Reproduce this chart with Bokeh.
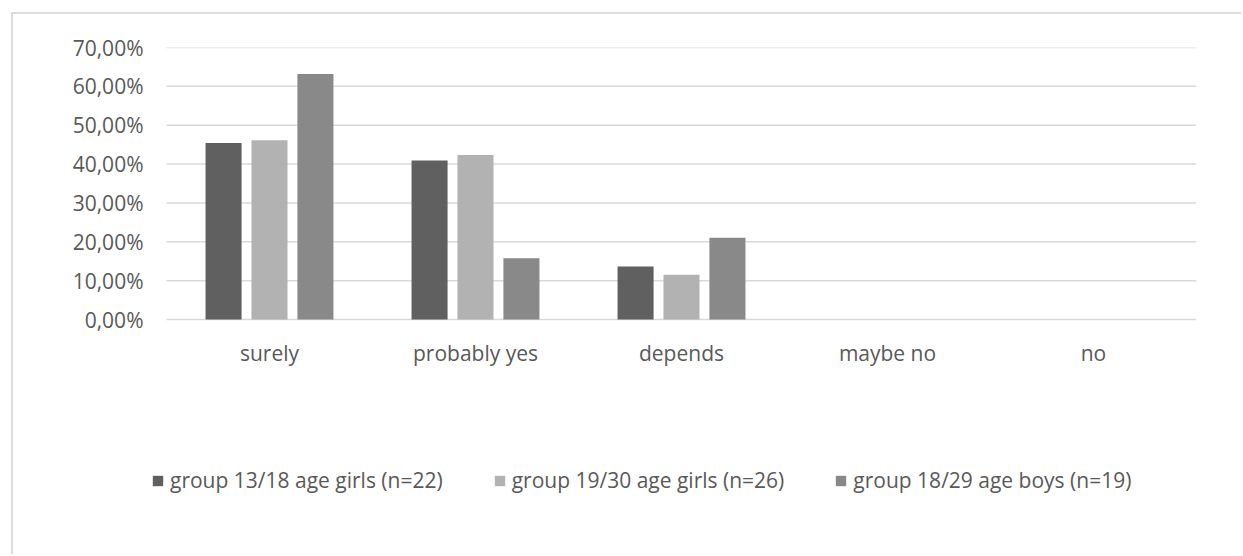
import numpy as np
from bokeh.plotting import figure
from bokeh.models import (ColumnDataSource, Range1d, FixedTicker, LinearAxis,
                          Legend, LegendItem)
from bokeh.transform import dodge
from bokeh.embed import file_html
from bokeh.resources import INLINE

# Answer categories and share of each group (percent)
categories = ["surely", "probably yes", "depends", "maybe no", "no"]
girls_13_18 = [45.45, 40.91, 13.64, 0.0, 0.0]
girls_19_30 = [46.15, 42.31, 11.54, 0.0, 0.0]
boys_18_29 = [63.16, 15.79, 21.05, 0.0, 0.0]
series_names = ["group 13/18 age girls (n=22)",
                "group 19/30 age girls (n=26)",
                "group 18/29 age boys (n=19)"]
y_ticks = [0, 10, 20, 30, 40, 50, 60, 70]
y_tick_labels = ["0,00%", "10,00%", "20,00%", "30,00%",
                 "40,00%", "50,00%", "60,00%", "70,00%"]

colors = ["#606060", "#b2b2b2", "#898989"]
TEXT = "#595959"
GRID = "#d9d9d9"
FONT = "Open Sans"

n_cat = len(categories)
cat_x = np.arange(n_cat) + 0.5          # centre of each category slot
source = ColumnDataSource(data=dict(x=cat_x, g1=girls_13_18,
                                    g2=girls_19_30, g3=boys_18_29))

# canvas geometry (pixels)
W, H = 1230, 542
SLOT = 206                 # width of one category slot
LEFT_PAD = 20              # free strip left of the first slot
PLOT_H = 272               # height of the 0..70 % band
BELOW = 186                # space under the 0 % line for labels and legend
y_max = y_ticks[-1]
y_min = -BELOW * y_max / PLOT_H

p = figure(x_range=Range1d(-LEFT_PAD / SLOT, n_cat),
           y_range=Range1d(y_min, y_max),
           width=W, height=H, output_backend="svg", toolbar_location=None,
           x_axis_location=None,
           min_border_left=W - 47 - n_cat * SLOT - LEFT_PAD,
           min_border_right=47, min_border_top=33,
           min_border_bottom=H - 33 - PLOT_H - BELOW)
p.styles = {"margin-left": "11px", "margin-top": "12px",
            "border-left": "2px solid #dcdcdc",
            "border-top": "2px solid #dcdcdc"}
p.outline_line_color = None
p.xgrid.grid_line_color = None
p.ygrid.grid_line_color = None

# horizontal gridlines spanning the category slots
p.segment(x0=0, x1=n_cat, y0=y_ticks, y1=y_ticks,
          line_color=GRID, line_width=1.5)

offsets = [-0.223, 0.0, 0.223]
renderers = []
for col, off, c in zip(["g1", "g2", "g3"], offsets, colors):
    r = p.vbar(x=dodge("x", off), top=col, width=0.175,
               source=source, fill_color=c, line_color=None)
    renderers.append(r)

# y axis
p.yaxis.ticker = FixedTicker(ticks=y_ticks)
p.yaxis.major_label_overrides = {t: l for t, l in zip(y_ticks, y_tick_labels)}
p.yaxis.axis_line_color = None
p.yaxis.major_tick_line_color = None
p.yaxis.major_tick_out = 0
p.yaxis.minor_tick_line_color = None
p.yaxis.minor_tick_out = 0
p.yaxis.major_label_standoff = 3
p.yaxis.major_label_text_font = FONT
p.yaxis.major_label_text_font_size = "21px"
p.yaxis.major_label_text_color = TEXT

# category axis sitting on the 0 % line
xaxis = LinearAxis(fixed_location=0,
                   ticker=FixedTicker(ticks=list(cat_x)),
                   major_label_overrides={float(x): c for x, c in
                                          zip(cat_x, categories)},
                   axis_line_color=None, major_tick_line_color=None,
                   major_tick_out=0, minor_tick_line_color=None,
                   minor_tick_out=0, major_label_standoff=19,
                   major_label_text_font=FONT,
                   major_label_text_font_size="21px",
                   major_label_text_color=TEXT)
p.add_layout(xaxis, "below")

legend = Legend(items=[LegendItem(label=n, renderers=[r])
                       for n, r in zip(series_names, renderers)],
                location=(5, 11), orientation="horizontal",
                glyph_width=13, glyph_height=13, label_standoff=6,
                spacing=50, padding=0, margin=0,
                border_line_color=None, background_fill_alpha=0,
                label_text_font=FONT, label_text_font_size="21px",
                label_text_color=TEXT)
p.add_layout(legend, "center")

open("out.html", "w").write(file_html(p, INLINE))
